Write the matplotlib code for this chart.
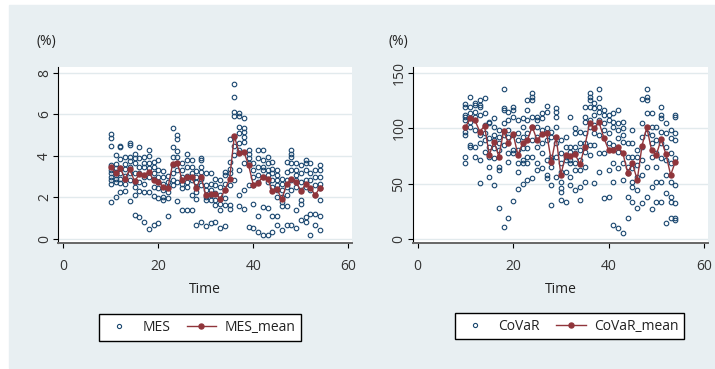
import numpy as np
import matplotlib.pyplot as plt
from matplotlib.lines import Line2D
from matplotlib.patches import Rectangle

plt.rcParams['font.family'] = ['Open Sans', 'DejaVu Sans']

NAVY = '#1a476f'
MAROON = '#90353b'
BG = '#e8eff2'
GRID = '#e2eaed'

time = list(range(10, 55))

# MES values, one list per time period
mes_points = [
    [5.05, 4.85, 4.47, 3.55, 3.3, 3.15, 3.0, 2.85, 2.62, 1.78],
    [4.05, 3.6, 3.4, 3.2, 3.07, 2.9, 2.75, 2.02],
    [4.47, 4.43, 3.85, 3.4, 3.15, 2.9, 2.7, 2.27],
    [3.95, 3.6, 3.35, 3.05, 2.65, 2.3],
    [4.62, 4.52, 3.95, 3.75, 3.45, 3.15, 2.85, 1.8],
    [4.1, 3.9, 3.65, 3.15, 2.75, 2.5, 2.1, 1.15],
    [4.43, 3.9, 3.45, 3.15, 2.75, 2.3, 1.05],
    [3.95, 3.65, 3.45, 3.0, 2.65, 2.25, 0.82],
    [4.3, 4.0, 3.65, 3.4, 3.0, 2.25, 0.48],
    [3.7, 3.45, 3.15, 2.9, 2.5, 2.05, 0.66],
    [3.8, 3.3, 3.0, 2.75, 2.45, 1.95, 0.77],
    [3.28, 2.98, 2.65, 2.35, 2.0, 1.88],
    [3.05, 2.75, 2.5, 2.25, 1.95, 1.1],
    [5.32, 4.43, 3.95, 3.55, 3.15, 2.85, 2.6],
    [5.0, 4.8, 4.25, 3.95, 3.65, 3.3, 2.75, 1.8],
    [3.65, 3.3, 3.0, 2.65, 2.45, 1.4],
    [4.1, 3.8, 3.45, 3.05, 2.75, 2.5, 1.4],
    [3.8, 3.45, 3.15, 2.85, 2.1, 1.38],
    [3.25, 3.0, 2.75, 2.5, 2.27, 1.9, 0.68],
    [3.9, 3.8, 3.45, 3.2, 2.9, 2.6, 0.82],
    [3.15, 2.6, 2.35, 2.02, 1.88, 0.62],
    [3.15, 2.65, 2.35, 2.1, 1.88, 0.78],
    [2.9, 2.6, 2.22, 1.88, 1.62, 0.82],
    [2.82, 2.5, 2.1, 1.7, 1.4, 0.5],
    [3.22, 3.07, 2.65, 2.35, 1.95, 1.62, 0.62],
    [4.8, 3.7, 3.38, 3.15, 2.6, 1.62, 1.45],
    [7.45, 6.85, 6.12, 5.9, 4.9, 4.45, 4.05, 2.85],
    [6.05, 5.9, 5.4, 5.08, 4.6, 4.28, 3.3, 2.1, 1.58],
    [5.8, 5.32, 5.15, 4.9, 4.65, 3.63, 2.35, 1.42],
    [4.27, 4.1, 3.87, 3.63, 2.58, 0.58],
    [3.63, 3.3, 3.0, 2.6, 1.7, 0.5],
    [4.27, 3.87, 3.45, 3.07, 2.75, 1.12, 0.33],
    [4.27, 3.8, 3.45, 3.3, 3.0, 1.55, 0.18],
    [3.95, 3.63, 3.3, 3.07, 2.75, 1.47, 0.18],
    [3.7, 3.38, 3.15, 2.83, 2.5, 1.12, 0.33],
    [3.3, 3.07, 2.83, 2.58, 2.35, 2.02, 1.12, 0.66],
    [2.9, 2.65, 2.35, 2.02, 1.78, 1.58, 0.42],
    [3.7, 3.22, 2.83, 2.5, 2.1, 1.58, 0.66],
    [4.27, 4.1, 3.95, 3.63, 3.3, 2.83, 2.35, 0.66],
    [3.63, 3.3, 3.07, 2.83, 2.5, 1.38, 0.5],
    [3.55, 3.15, 2.75, 2.35, 1.88, 1.7, 0.9],
    [3.8, 3.63, 3.3, 2.83, 2.5, 1.05, 0.82],
    [3.63, 3.15, 2.83, 2.35, 1.22, 0.18],
    [3.3, 3.0, 2.6, 2.1, 1.22, 0.66],
    [3.55, 3.3, 3.0, 2.65, 2.45, 1.88, 1.12, 0.45],
]

mes_mean = [3.47, 3.15, 3.39, 2.9, 3.34, 2.78, 3.1, 3.07, 3.23, 2.83,
            2.75, 2.5, 2.43, 3.6, 3.66, 2.83, 2.99, 2.99, 2.43, 2.99,
            2.1, 2.18, 2.18, 1.93, 2.35, 2.88, 4.96, 4.14, 4.19, 3.55,
            2.59, 2.7, 2.99, 2.9, 2.3, 2.38, 1.91, 2.62, 2.9, 2.75,
            2.3, 2.63, 2.47, 2.1, 2.47]

# CoVaR values, one list per time period
covar_points = [
    [121.5, 119.4, 112, 110.5, 107.4, 97, 94, 74.4, 68.4],
    [128.4, 119.4, 113.4, 106, 101.4, 85, 83.4],
    [122.4, 121, 115, 110.5, 98.4, 83.4, 74.4],
    [125.4, 121, 119.4, 112, 94, 86.4, 71.4, 51],
    [127, 113.4, 103, 95.4, 89.4, 79],
    [106, 104.4, 91, 83.4, 74.4, 65.4, 56.4],
    [109, 101.4, 94, 89.4, 82, 73, 49],
    [98.4, 92.4, 86.4, 80.4, 65.4, 62.4, 28],
    [135, 118, 116.4, 104.4, 94, 85, 11.4],
    [115, 107.4, 98.4, 92.4, 77.4, 70, 19],
    [119.4, 116.4, 110.5, 94, 80.4, 77.4, 34.5],
    [107.4, 95.4, 89.4, 80.4, 68.4, 61, 45],
    [109, 101.4, 92.4, 82, 71.4, 68.4, 49.5],
    [125.4, 116.4, 107.4, 95.4, 82, 74.4, 68.4, 53.4],
    [131.4, 128.4, 125.4, 110.5, 101.4, 89.4, 74.4, 55],
    [110.5, 107.4, 101.4, 92.4, 83.4, 68.4, 62.4],
    [113.4, 109, 98.4, 86.4, 77.4, 64],
    [120, 115, 100, 89.4, 71.4, 58, 55],
    [97, 92.4, 74.4, 71.4, 65.4, 49, 31],
    [118, 115, 110.5, 101.4, 86.4, 74.4, 56.4],
    [89.4, 77.4, 68.4, 61, 52, 46, 43, 35.5],
    [92.4, 83.4, 74.4, 71.4, 61, 34],
    [110.5, 83.4, 79, 71.4, 68.4, 56.4, 49],
    [100, 95.4, 83.4, 77.4, 68.4, 62.4, 44.4],
    [97, 86.4, 80.4, 71.4, 62.4, 47.4, 35.5],
    [119.4, 110.5, 106, 95.4, 86.4, 79, 65.4, 52],
    [131.4, 128.4, 125.4, 119.4, 107.4, 101.4, 85, 76],
    [122.4, 118, 112, 103, 95.4, 85, 51],
    [135, 127, 119.4, 115, 107.4, 94, 77.4, 61],
    [116.4, 112, 104.4, 98.4, 77.4, 37],
    [112, 107.4, 95.4, 86.4, 62.4, 38.4],
    [113.4, 106, 101.4, 85, 68.4, 52, 13],
    [116.4, 104.4, 98.4, 91, 79, 64, 10],
    [106, 100, 94, 88, 68.4, 53.4, 5.4],
    [86.4, 74.4, 65.4, 59.4, 38.4, 19],
    [98.4, 86.4, 74.4, 64, 52, 47.4, 34],
    [80.4, 74.4, 67, 56.4, 44.4, 28],
    [126, 104.4, 92.4, 83.4, 71.4, 58, 32.4],
    [135, 128.4, 125.4, 113.4, 95.4, 65.4, 38.4],
    [113.4, 101.4, 94, 86.4, 74.4, 47.4, 27],
    [101.4, 89.4, 77.4, 65.4, 52, 34],
    [119.4, 112, 109, 97, 86.4, 73, 52, 34],
    [104.4, 95.4, 83.4, 71.4, 58, 41.4, 14.4],
    [98.4, 91, 77.4, 68.4, 52, 38.4, 34, 19],
    [112, 110.5, 95.4, 89.4, 73, 49, 32.4, 19, 17.4],
]

covar_mean = [100.8, 109, 107, 97, 102, 76, 88, 74.4, 97.5, 86.4,
              94.8, 76, 87, 89.4, 101.4, 89.4, 94.5, 96, 70, 92.4,
              57.9, 76, 75, 76.5, 67.5, 83.4, 104.4, 100.5, 105.3, 91.5,
              80.4, 80.4, 83.4, 77.4, 60, 68.4, 53.4, 84.3, 100.8, 80.4,
              76, 90, 76.8, 57.9, 70]

x_ticks = [0, 20, 40, 60]
mes_ticks = [0, 2, 4, 6, 8]
covar_ticks = [0, 50, 100, 150]

W, H = 715, 369
fig = plt.figure(figsize=(W / 100, H / 100), dpi=100, facecolor='white')
fig.patches.append(Rectangle((9 / W, 1 - 368 / H), (W - 9) / W, 363 / H,
                             transform=fig.transFigure, color=BG, zorder=-5))

ax1 = fig.add_axes([58.3 / W, 1 - 243 / H, 293.4 / W, 176.3 / H])
ax2 = fig.add_axes([412.7 / W, 1 - 243 / H, 295.3 / W, 176.3 / H])


def draw_panel(ax, points, means, ticks, xlim, ylim, name):
    xs = np.repeat(time, [len(p) for p in points])
    ys = np.concatenate([np.array(p, dtype=float) for p in points])
    ax.plot(xs, ys, linestyle='none', marker='o', ms=3.3, mfc='none',
            mec=NAVY, mew=0.8, zorder=3)
    ax.plot(time, means, color=MAROON, lw=1.0, marker='o', ms=3.6,
            mfc=MAROON, mec=MAROON, zorder=4)

    ax.set_xlim(xlim)
    ax.set_ylim(ylim)
    ax.set_xticks(x_ticks)
    ax.set_yticks(ticks)
    ax.set_facecolor('white')
    ax.yaxis.grid(True, color=GRID, lw=1.0)
    ax.set_axisbelow(True)
    for s in ['top', 'right']:
        ax.spines[s].set_visible(False)
    ax.spines['left'].set_color('black')
    ax.spines['left'].set_linewidth(0.8)
    ax.spines['bottom'].set_color('#666666')
    ax.spines['bottom'].set_linewidth(1.4)
    ax.tick_params(axis='x', direction='out', length=3.5, width=0.8,
                   labelsize=10, labelcolor='#333333', pad=8)
    ax.tick_params(axis='y', direction='out', length=3.5, width=0.8,
                   labelsize=10, labelcolor='#333333', pad=1)
    for lab in ax.get_yticklabels():
        lab.set_rotation(90)
        lab.set_va('center')
    ax.set_xlabel('Time', fontsize=10, color='#222222', labelpad=6)

    handles = [
        Line2D([], [], linestyle='none', marker='o', ms=3.0, mfc='none',
               mec=NAVY, mew=0.8),
        Line2D([], [], color=MAROON, lw=1.0, marker='o', ms=3.6,
               mfc=MAROON, mec=MAROON),
    ]
    return handles


h1 = draw_panel(ax1, mes_points, mes_mean, mes_ticks, (-1.05, 60.7), (-0.2, 8.29), 'MES')
h2 = draw_panel(ax2, covar_points, covar_mean, covar_ticks, (-1.05, 60.83), (-3.3, 155.4), 'CoVaR')

fig.text(46 / W, 1 - 42 / H, '(%)', ha='center', va='center', fontsize=10, color='#222222')
fig.text(398 / W, 1 - 42 / H, '(%)', ha='center', va='center', fontsize=10, color='#222222')

for handles, labels, cx, cy in [(h1, ['MES', 'MES_mean'], 200 / W, 1 - 327.5 / H),
                                (h2, ['CoVaR', 'CoVaR_mean'], 569.5 / W, 1 - 326 / H)]:
    leg = fig.legend(handles, labels, loc='center', bbox_to_anchor=(cx, cy),
                     ncol=2, fontsize=10, frameon=True, fancybox=False,
                     edgecolor='black', framealpha=1, handlelength=2.1,
                     handletextpad=0.6, columnspacing=1.2, borderpad=0.4)
    leg.get_frame().set_linewidth(1.0)
    for t in leg.get_texts():
        t.set_color('#222222')

fig.savefig('out.png', dpi=100, facecolor=fig.get_facecolor())
